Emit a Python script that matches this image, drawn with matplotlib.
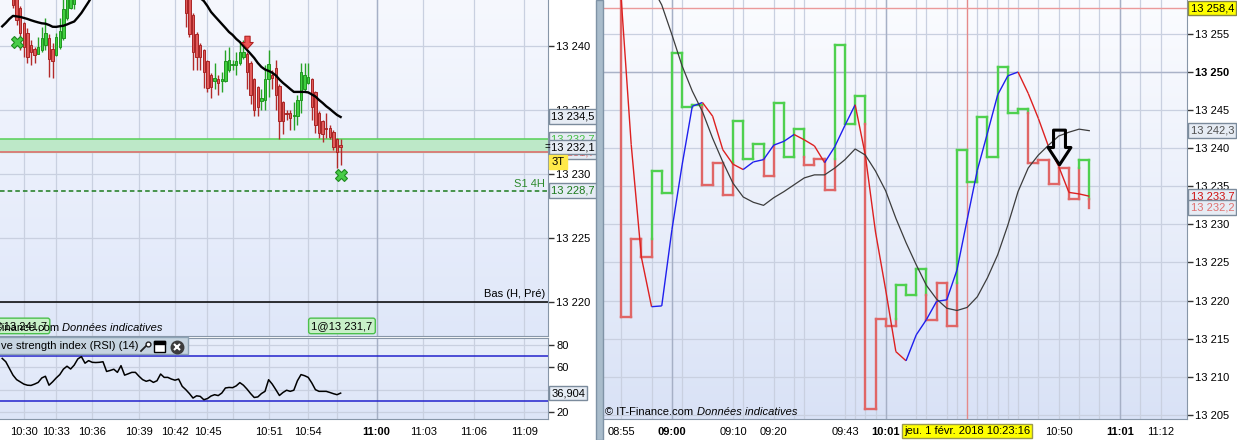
import numpy as np
import matplotlib
matplotlib.use("Agg")
import matplotlib.pyplot as plt
from matplotlib.collections import LineCollection
from matplotlib.colors import LinearSegmentedColormap
from matplotlib.patches import Rectangle
from matplotlib.path import Path
from matplotlib.transforms import blended_transform_factory

plt.rcParams["font.family"] = ["Liberation Sans", "DejaVu Sans"]
plt.rcParams["font.size"] = 8

nan = np.nan

# ---------------- left window : 3-tick candles ----------------
# one value per bar, nan = bar above the visible price window
cdl_open = ([nan] * 3 +
            [13244.4, 13244.5, 13243.0, 13241.8, 13241.0, 13240.1, 13239.8, 13239.4, 13239.7,
             13240.1, 13240.6, 13239.8, 13239.3, 13239.9, 13240.6, 13242.2, 13243.0, 13243.3] +
            [nan] * 30 +
            [13244.0, 13243.8, 13242.4, 13240.9, 13240.1, 13239.7, 13238.8, 13237.7, 13237.3, 13237.4,
             13237.3, 13237.3, 13238.1, 13238.5, 13238.5, 13238.7, 13239.1, 13239.4, 13238.7, 13237.4,
             13236.8, 13235.7, 13235.8, 13237.4, 13237.7, 13238.3, 13236.9, 13235.6, 13234.8, 13234.8,
             13234.5, 13234.5, 13235.8, 13236.6, 13237.1, 13237.4, 13236.4, 13234.8, 13234.1, 13233.6,
             13233.6, 13233.3, 13232.7, 13232.3])
cdl_high = ([nan] * 3 +
            [13244.6, 13244.7, 13243.1, 13241.9, 13241.4, 13240.5, 13239.9, 13240.7, 13241.5,
             13242.2, 13240.9, 13240.2, 13241.0, 13242.2, 13243.7, 13244.6, 13244.8, 13245.0] +
            [nan] * 30 +
            [13244.3, 13244.0, 13242.6, 13241.1, 13240.2, 13239.8, 13238.9, 13237.9, 13238.7, 13237.7,
             13238.0, 13239.7, 13239.9, 13238.9, 13239.5, 13240.3, 13240.5, 13239.5, 13238.8, 13237.5,
             13236.9, 13236.6, 13238.5, 13239.7, 13238.1, 13238.9, 13237.0, 13235.7, 13235.0, 13235.0,
             13235.6, 13236.2, 13238.7, 13238.7, 13238.7, 13237.5, 13236.5, 13234.9, 13234.2, 13234.8,
             13233.8, 13233.4, 13232.8, 13232.7])
cdl_low = ([nan] * 3 +
           [13243.0, 13241.6, 13239.7, 13239.1, 13238.7, 13238.5, 13238.7, 13239.4, 13239.5,
            13239.7, 13237.6, 13237.5, 13239.2, 13239.8, 13240.5, 13242.0, 13242.9, 13242.9] +
           [nan] * 30 +
           [13241.5, 13240.7, 13238.1, 13238.1, 13238.1, 13236.7, 13236.4, 13235.9, 13236.6, 13236.2,
            13236.4, 13237.2, 13238.0, 13238.1, 13237.7, 13238.5, 13239.0, 13236.6, 13235.5, 13234.5,
            13234.5, 13235.0, 13235.0, 13236.0, 13236.6, 13235.0, 13232.7, 13233.1, 13234.2, 13233.4,
            13233.4, 13233.8, 13234.8, 13236.4, 13237.0, 13234.2, 13233.2, 13232.8, 13232.5, 13232.8,
            13232.7, 13231.9, 13230.5, 13230.7])
cdl_close = ([nan] * 3 +
             [13243.2, 13242.0, 13241.0, 13239.9, 13239.1, 13239.5, 13239.3, 13239.9, 13240.6,
              13241.0, 13239.0, 13238.8, 13240.7, 13241.2, 13242.9, 13244.2, 13244.5, 13244.8] +
             [nan] * 30 +
             [13242.6, 13240.9, 13239.5, 13239.1, 13239.1, 13238.0, 13236.7, 13236.8, 13237.5, 13237.1,
              13237.4, 13238.8, 13238.9, 13238.6, 13238.8, 13239.5, 13239.5, 13238.0, 13236.2, 13235.0,
              13235.2, 13235.9, 13237.4, 13238.6, 13237.5, 13236.2, 13234.1, 13234.1, 13234.7, 13234.4,
              13234.6, 13235.8, 13238.0, 13237.7, 13237.6, 13235.2, 13233.8, 13233.2, 13233.1, 13233.5,
              13232.9, 13232.1, 13231.7, 13232.1])

# moving average drawn over the candles (off-window part estimated)
sma = [13241.53, 13241.80, 13242.11, 13242.35, 13242.31, 13242.27, 13242.19, 13242.11, 13242.01, 13241.92,
       13241.84, 13241.77, 13241.74, 13241.64, 13241.50, 13241.49, 13241.54, 13241.58, 13241.68, 13241.80,
       13241.91, 13242.23, 13242.58, 13243.01, 13243.44, 13243.9, 13244.3, 13244.7, 13245.1, 13245.5,
       13245.8, 13246.1, 13246.4, 13246.6, 13246.8, 13247.0, 13247.1, 13247.2, 13247.2, 13247.2,
       13247.1, 13247.0, 13246.9, 13246.7, 13246.5, 13246.3, 13246.0, 13245.7, 13245.4, 13245.1,
       13244.8, 13244.5, 13244.3, 13244.1, 13243.9, 13243.75, 13243.51, 13243.12, 13242.66, 13242.34,
       13242.03, 13241.72, 13241.41, 13241.09, 13240.86, 13240.55, 13240.31, 13240.00, 13239.69, 13239.38,
       13239.06, 13238.67, 13238.36, 13238.16, 13238.05, 13237.91, 13237.70, 13237.38, 13237.11, 13236.88,
       13236.64, 13236.41, 13236.41, 13236.41, 13236.41, 13236.37, 13236.21, 13236.05, 13235.78, 13235.55,
       13235.29, 13235.08, 13234.84, 13234.61, 13234.45]

rsi = [68, 65, 59, 53, 49, 47, 45, 44, 43.8, 45, 46.5, 50.5, 52, 44, 47, 50.5, 53.5, 58.4, 61, 58.5,
       62, 67.5, 69.6, 63.7, 66, 64.5, 64.3, 64.5, 65, 56.3, 57.2, 58.3, 55.5, 61.5, 53, 54.2, 55.5,
       55.5, 52, 49, 47.5, 48.5, 46.5, 48, 54, 51, 51, 49.5, 48.5, 49.5, 43, 40, 36.5, 32.5, 34.5, 34,
       31, 32, 34.3, 35.5, 34.7, 37, 41.5, 42, 41.8, 43.4, 46.3, 44, 40.5, 36.5, 33, 33.5, 36.5, 38.5,
       48.9, 45, 40, 34.8, 37.5, 39.5, 38.5, 39.5, 48, 53.5, 52.5, 51, 46, 40, 38.5, 38.5, 38.5, 37.5,
       36.4, 35.5, 36.9]

left_ticks = [6, 15, 25, 38, 48, 57, 64, 74, 85, 93, 104, 117, 131, 145]
left_labels = ["10:30", "10:33", "10:36", "10:39", "10:42", "10:45", "", "10:51", "10:54", "",
               "11:00", "11:03", "11:06", "11:09"]
left_bold = "11:00"

zone_top, zone_bottom = 13232.7, 13231.7
support_s1 = 13228.7
low_prev = 13220.0
sell_signal = (68, 13240.3)
stop_marks_bar = [4, 94]
stop_marks_price = [13240.3, 13229.9]
last_price, last_sma, last_rsi = 13232.1, 13234.5, 36.904

# ---------------- right window : step chart ----------------
step_levels = [13262.0, 13217.9, 13228.1, 13225.7, 13237.0, 13234.1, 13252.5, 13245.4, 13245.7, 13235.2,
               13238.1, 13233.9, 13243.6, 13238.6, 13240.5, 13236.4, 13245.9, 13238.9, 13242.5, 13237.8,
               13238.6, 13234.5, 13253.6, 13243.2, 13246.8, 13205.8, 13217.6, 13216.7, 13222.0, 13220.7,
               13224.2, 13217.4, 13222.3, 13216.7, 13239.7, 13235.6, 13244.1, 13238.9, 13250.7, 13244.6,
               13245.2, 13238.0, 13238.4, 13235.3, 13237.4, 13233.3, 13238.4, 13232.2]
fast_ma = [nan, 13260.0, 13240.5, 13225.7, 13219.2, 13219.3, 13229.3, 13237.8, 13245.5, 13246.0,
           13244.2, 13239.8, 13237.9, 13237.2, 13238.2, 13238.5, 13240.4, 13240.9, 13241.8, 13241.1,
           13240.3, 13238.1, 13240.2, 13243.0, 13245.7, 13239.1, 13229.0, 13221.4, 13213.3, 13212.1,
           13215.5, 13217.5, 13219.9, 13220.1, 13224.0, 13230.6, 13237.1, 13242.0, 13247.0, 13249.5,
           13250.0, 13247.2, 13243.9, 13240.2, 13237.6, 13234.2, 13234.0, 13233.7]
slow_ma = [nan, nan, nan, nan, 13261.3, 13258.8, 13254.9, 13250.8, 13247.5, 13244.8,
           13241.3, 13238.2, 13235.4, 13233.6, 13232.9, 13232.5, 13233.5, 13234.3, 13235.2, 13236.1,
           13236.5, 13236.5, 13237.4, 13238.5, 13239.9, 13239.1, 13237.0, 13234.4, 13230.8, 13227.6,
           13224.7, 13222.0, 13220.2, 13219.0, 13218.7, 13219.1, 13220.5, 13223.0, 13226.0, 13229.9,
           13234.3, 13237.4, 13239.1, 13240.4, 13241.6, 13242.1, 13242.5, 13242.3]

right_grid = [1, 4, 6, 7, 12, 13, 16, 18, 19, 23, 24, 25, 26, 27, 30, 31, 33, 34, 36, 37, 38, 39,
              40, 42, 44, 46, 48, 50, 52, 54]
right_labels = {1: "08:55", 6: "09:00", 12: "09:10", 16: "09:20", 23: "09:43", 27: "10:01",
                44: "10:50", 50: "11:01", 54: "11:12"}
right_bold = [6, 27, 50]
cursor_period, cursor_text = 35, "jeu. 1 févr. 2018 10:23:16"
cursor_price = 13258.4
signal_period, signal_price = 44, 13240.1
tag_fast, tag_last, tag_slow = 13233.7, 13232.2, 13242.3

# ---------------- layout (pixel boxes) ----------------
W, H = 1237, 440
fig = plt.figure(figsize=(W / 100, H / 100), dpi=100)
fig.patch.set_facecolor("white")


def px_box(x0, y0, x1, y1):
    return [x0 / W, 1 - y1 / H, (x1 - x0) / W, (y1 - y0) / H]


def gradient_bg(ax, top, bottom):
    cmap = LinearSegmentedColormap.from_list("bg", [top, bottom])
    ax.imshow(np.linspace(0, 1, 256)[:, None], cmap=cmap, aspect="auto", extent=[0, 1, 0, 1],
              transform=ax.transAxes, zorder=0, interpolation="bilinear")


def price_tag(ax, y, text, color="black", face="#e6ecf4", edge="#7b8b9c", z=6, weight="normal"):
    ax.text(1.006, y, text, transform=ax.get_yaxis_transform(), ha="left", va="center",
            color=color, fontsize=8, fontweight=weight, zorder=z, clip_on=False,
            bbox=dict(boxstyle="square,pad=0.2", fc=face, ec=edge, lw=1))


def style_axes(ax):
    for side in ["top", "left"]:
        ax.spines[side].set_visible(False)
    for side in ["right", "bottom"]:
        ax.spines[side].set_color("#8796a8")
    ax.yaxis.tick_right()
    ax.tick_params(axis="y", direction="out", length=4, width=1, color="#333333", pad=2,
                   labelsize=8)
    ax.tick_params(axis="x", length=0, pad=6, labelsize=8)
    ax.grid(True, color="#c9d0e0", lw=0.9, zorder=1)
    ax.set_axisbelow(True)


ax_l = fig.add_axes(px_box(0, 0, 548, 336))
ax_rsi = fig.add_axes(px_box(0, 338, 548, 419))
ax_r = fig.add_axes(px_box(603, 0, 1187, 419))

# separators
fig.patches.append(Rectangle((596 / W, 0), 7 / W, 1, transform=fig.transFigure,
                             fc="#a9bccb", ec="#7f93a6", lw=1, zorder=0))

# ================= left main =================
style_axes(ax_l)
gradient_bg(ax_l, "#f6f8fe", "#dfe7f9")
bars = np.arange(len(cdl_open))
o, h, l, c = (np.array(a, dtype=float) for a in (cdl_open, cdl_high, cdl_low, cdl_close))
valid = ~np.isnan(o)
up = valid & (np.nan_to_num(c) >= np.nan_to_num(o))
dn = valid & ~up
ax_l.vlines(bars[up], l[up], h[up], color="#27a327", lw=1, zorder=3)
ax_l.vlines(bars[dn], l[dn], h[dn], color="#b32a2a", lw=1, zorder=3)
ax_l.bar(bars[up], np.maximum(c[up] - o[up], 0.08), bottom=o[up], width=0.7,
         color="#3fcf3f", edgecolor="#1f951f", lw=0.7, zorder=4)
ax_l.bar(bars[dn], o[dn] - c[dn], bottom=c[dn], width=0.7,
         color="#e05a5a", edgecolor="#a82424", lw=0.7, zorder=4)
ax_l.plot(np.arange(len(sma)), sma, color="black", lw=1.7, zorder=5)

ax_l.axhspan(zone_bottom, zone_top, color="#bde8c8", zorder=2)
ax_l.axhline(zone_top, color="#58d058", lw=1.1, zorder=2)
ax_l.axhline(zone_bottom, color="#e06464", lw=1.1, zorder=2)
ax_l.axhline(support_s1, color="#1c7a1c", lw=1.1, ls=(0, (3, 2)), zorder=2)
ax_l.axhline(low_prev, color="black", lw=1.1, zorder=2)
blend_l = blended_transform_factory(ax_l.transAxes, ax_l.transData)
ax_l.text(0.995, support_s1 + 0.15, "S1 4H", transform=blend_l, ha="right", va="bottom",
          color="#2c8a2c", fontsize=8, zorder=6)
ax_l.text(0.995, low_prev + 0.2, "Bas (H, Pré)", transform=blend_l, ha="right", va="bottom",
          color="black", fontsize=8, zorder=6)

arrow_dn = Path([(-2.5, 6), (2.5, 6), (2.5, 0), (5.5, 0), (0, -6), (-5.5, 0), (-2.5, 0), (-2.5, 6)],
                closed=True)
ax_l.plot([sell_signal[0]], [sell_signal[1]], marker=arrow_dn, ms=9, mfc="#ee5555", mec="#b02020",
          mew=0.8, ls="none", zorder=7)
ax_l.plot(stop_marks_bar, stop_marks_price, marker="X", ms=9, mfc="#48cc48", mec="#1e8a1e",
          mew=0.8, ls="none", zorder=7)

ax_l.text(0.0858, 0.03, "1@13 241,7", transform=ax_l.transAxes, ha="right", va="center",
          fontsize=8, zorder=8, clip_on=True,
          bbox=dict(boxstyle="round,pad=0.25,rounding_size=0.2", fc="#c8f0c8", ec="#4cc04c", lw=1))
ax_l.text(0.624, 0.03, "1@13 231,7", transform=ax_l.transAxes, ha="center", va="center",
          fontsize=8, zorder=8, clip_on=True,
          bbox=dict(boxstyle="round,pad=0.25,rounding_size=0.2", fc="#c8f0c8", ec="#4cc04c", lw=1))
# watermark is painted over the order label, as in the platform
ax_l.text(0.108, 0.024, "© IT-Finance.com", transform=ax_l.transAxes, ha="right", va="center",
          fontsize=8, zorder=9, clip_on=True)
ax_l.text(0.113, 0.024, "Données indicatives", transform=ax_l.transAxes, ha="left", va="center",
          fontsize=8, style="italic", zorder=9, clip_on=True)

ax_l.set_yticks([13220, 13225, 13230, 13235, 13240],
                ["13 220", "13 225", "13 230", "13 235", "13 240"])
ax_l.set_xticks(left_ticks)
ax_l.tick_params(axis="x", labelbottom=False)
ax_l.axvline(left_ticks[left_labels.index(left_bold)], color="#a6b0c6", lw=1, zorder=1)

price_tag(ax_l, last_sma, "13 234,5", z=6)
price_tag(ax_l, zone_top, "13 232,7", color="#45c045", z=7)
price_tag(ax_l, zone_bottom, "13 231,7", color="#e06060", z=7)
price_tag(ax_l, last_price, "13 232,1", z=9)
price_tag(ax_l, support_s1, "13 228,7", color="#1c7a1c", z=6)
ax_l.text(1.006, 13230.95, "3T", transform=blend_l, ha="left", va="center", fontsize=8, zorder=10,
          clip_on=False, bbox=dict(boxstyle="square,pad=0.2", fc="#ffe94a", ec="#ffe94a", lw=1))
ax_l.text(0.999, last_price, "=", transform=blend_l, ha="center", va="center", fontsize=7,
          zorder=10, clip_on=False)

ax_l.set_xlim(-0.61, 151.6)
ax_l.set_ylim(13217.34, 13243.59)

# ================= RSI =================
style_axes(ax_rsi)
ax_rsi.spines["top"].set_visible(True)
ax_rsi.spines["top"].set_color("#8796a8")
gradient_bg(ax_rsi, "#e8eefb", "#dde5f7")
ax_rsi.plot(np.arange(len(rsi)), rsi, color="black", lw=1.1, zorder=4)
ax_rsi.axhline(70, color="#2323cc", lw=1.1, zorder=3)
ax_rsi.axhline(30, color="#2323cc", lw=1.1, zorder=3)
ax_rsi.set_yticks([20, 40, 60, 80], ["20", "40", "60", "80"])
ax_rsi.set_xticks(left_ticks, left_labels)
for lab in ax_rsi.get_xticklabels():
    if lab.get_text() == left_bold:
        lab.set_fontweight("bold")
ax_rsi.axvline(left_ticks[left_labels.index(left_bold)], color="#a6b0c6", lw=1, zorder=1)
price_tag(ax_rsi, last_rsi, "36,904", z=8)

# header tab
ax_rsi.add_patch(Rectangle((-0.01, 0.80), 0.353, 0.21, transform=ax_rsi.transAxes, fc="#c6d4e0",
                           ec="#8da2b4", lw=1, zorder=6, clip_on=False))
ax_rsi.text(0.002, 0.905, "ve strength index (RSI) (14)", transform=ax_rsi.transAxes, ha="left",
            va="center", fontsize=8, zorder=7)


def rx(px):
    return px / 548


def ry(py):
    return (419 - py) / 81


ax_rsi.plot([rx(141), rx(147)], [ry(351), ry(345)], color="#222222", lw=1.3, zorder=7,
            transform=ax_rsi.transAxes, clip_on=False)
ax_rsi.plot([rx(148)], [ry(344)], marker="o", ms=3.5, mfc="white", mec="#222222", mew=1,
            transform=ax_rsi.transAxes, zorder=8, clip_on=False)
ax_rsi.add_patch(Rectangle((rx(154), ry(352)), rx(11), 11 / 81, transform=ax_rsi.transAxes,
                           fc="white", ec="black", lw=1, zorder=7, clip_on=False))
ax_rsi.add_patch(Rectangle((rx(154), ry(344)), rx(11), 3 / 81, transform=ax_rsi.transAxes,
                           fc="black", ec="black", lw=1, zorder=7, clip_on=False))
ax_rsi.plot([rx(177)], [ry(346.5)], marker="o", ms=9, mfc="#3c3c3c", mec="#3c3c3c",
            transform=ax_rsi.transAxes, zorder=7, clip_on=False)
ax_rsi.plot([rx(177)], [ry(346.5)], marker="x", ms=4, mec="white", mew=1.5,
            transform=ax_rsi.transAxes, zorder=8, clip_on=False)

ax_rsi.set_xlim(-0.61, 151.6)
ax_rsi.set_ylim(13.73, 86.27)

# ================= right main =================
style_axes(ax_r)
gradient_bg(ax_r, "#fbfcff", "#d9e2f6")


def kagi_segments(levels):
    segs, cols = [], []
    state = "red"
    peak = trough = None
    for i in range(len(levels) - 1):
        lv, nxt = levels[i], levels[i + 1]
        segs.append([(i, lv), (i + 1, lv)])
        cols.append(state)
        x = i + 1
        if nxt > lv and state == "red" and peak is not None and nxt > peak:
            t = max(lv, peak)
            segs += [[(x, lv), (x, t)], [(x, t), (x, nxt)]]
            cols += ["red", "green"]
            state = "green"
        elif nxt < lv and state == "green" and trough is not None and nxt < trough:
            t = min(lv, trough)
            segs += [[(x, lv), (x, t)], [(x, t), (x, nxt)]]
            cols += ["green", "red"]
            state = "red"
        else:
            segs.append([(x, lv), (x, nxt)])
            cols.append(state)
        if i > 0:
            if levels[i - 1] < lv > nxt:
                peak = lv
            if levels[i - 1] > lv < nxt:
                trough = lv
    return segs, cols


segs, cols = kagi_segments(step_levels)
palette = {"green": "#4fd04f", "red": "#e06666"}
ax_r.add_collection(LineCollection(segs, colors=[palette[k] for k in cols], lw=1.7,
                                   capstyle="projecting", zorder=4))

periods = np.arange(len(fast_ma))
fast = np.array(fast_ma, dtype=float)
fsegs, fcols = [], []
for i in range(len(fast) - 1):
    if np.isnan(fast[i]) or np.isnan(fast[i + 1]):
        continue
    fsegs.append([(periods[i], fast[i]), (periods[i + 1], fast[i + 1])])
    fcols.append("#1f1fee" if fast[i + 1] > fast[i] else "#dd2020")
ax_r.add_collection(LineCollection(fsegs, colors=fcols, lw=1.0, zorder=5))
ax_r.plot(np.arange(len(slow_ma)), slow_ma, color="#3c3c3c", lw=0.9, zorder=5)

ax_r.axhline(13250, color="#aab3c8", lw=1, zorder=1)
for p in right_bold:
    ax_r.axvline(p, color="#a6b0c6", lw=1, zorder=1)
ax_r.axvline(cursor_period, color="#e58a8a", lw=1, zorder=3)
ax_r.axhline(cursor_price, color="#eb9a9a", lw=1, zorder=3)

arrow_big = Path([(-6, 17.5), (6, 17.5), (6, 0), (11.5, 0), (0, -17.5), (-11.5, 0), (-6, 0),
                  (-6, 17.5)], closed=True)
ax_r.plot([signal_period], [signal_price], marker=arrow_big, ms=25, mfc="none", mec="black",
          mew=2.2, ls="none", zorder=7)

ax_r.text(0.004, 0.017, "© IT-Finance.com", transform=ax_r.transAxes, ha="left", va="center",
          fontsize=8, zorder=6)
ax_r.text(0.161, 0.017, "Données indicatives", transform=ax_r.transAxes, ha="left", va="center",
          fontsize=8, style="italic", zorder=6)

rt = list(range(13205, 13256, 5))
ax_r.set_yticks(rt, [f"13 {v - 13000:03d}" for v in rt])
for lab in ax_r.get_yticklabels():
    if lab.get_text() == "13 250":
        lab.set_fontweight("bold")
ax_r.set_xticks(right_grid, [right_labels.get(p, "") for p in right_grid])
for p, lab in zip(right_grid, ax_r.get_xticklabels()):
    if p in right_bold:
        lab.set_fontweight("bold")

price_tag(ax_r, cursor_price, "13 258,4", face="#ffff00", edge="#888844", z=8)
price_tag(ax_r, tag_slow, "13 242,3", color="#505050", z=8)
price_tag(ax_r, tag_fast, "13 233,7", color="#d01010", z=8)
price_tag(ax_r, tag_last, "13 232,2", color="#e07070", z=9)

blend_r = blended_transform_factory(ax_r.transData, ax_r.transAxes)
ax_r.text(cursor_period, -0.029, cursor_text, transform=blend_r, ha="center", va="center",
          fontsize=8, zorder=10, clip_on=False,
          bbox=dict(boxstyle="square,pad=0.2", fc="#ffff00", ec="#9a9a50", lw=1))

ax_r.set_xlim(-0.77, 56.6)
ax_r.set_ylim(13204.46, 13259.45)

fig.savefig("out.png", dpi=100)
